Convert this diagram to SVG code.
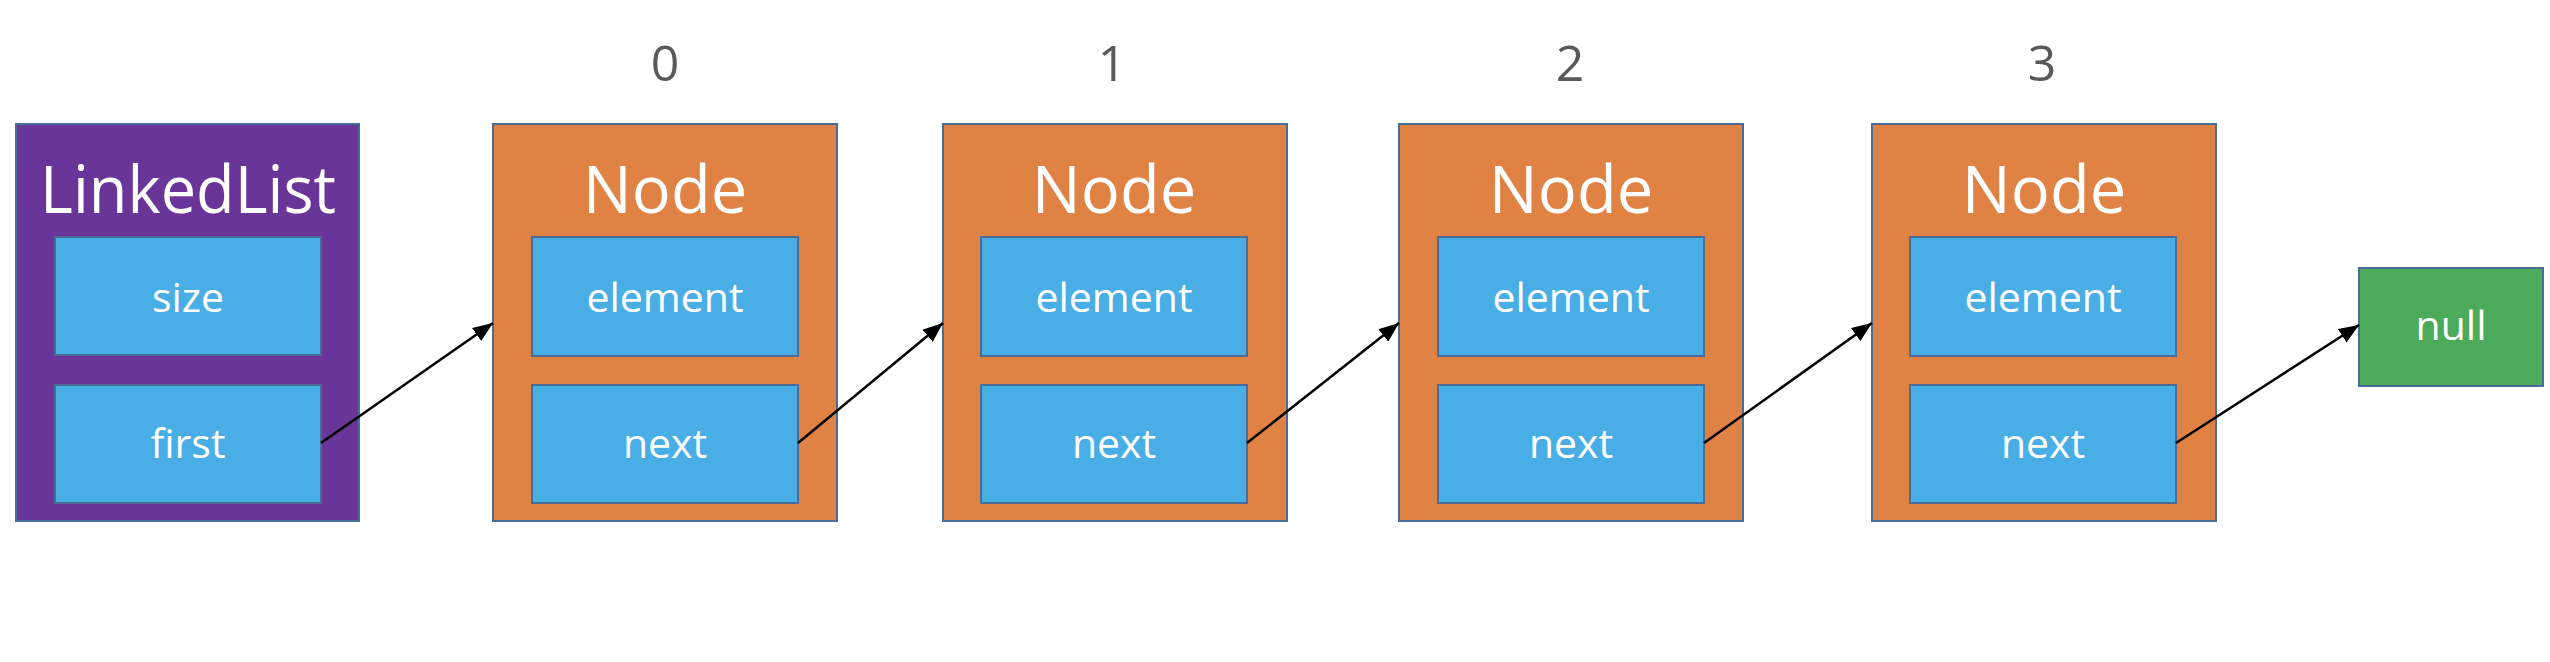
<svg xmlns="http://www.w3.org/2000/svg" width="2550" height="662" viewBox="0 0 2550 662">
<style>
.ll{fill:#6A3598;stroke:#4A6D98;stroke-width:2}
.nd{fill:#DF8244;stroke:#4A6D98;stroke-width:2}
.fld{fill:#4AAEE6;stroke:#4A6D98;stroke-width:2}
.nul{fill:#4CAB5A;stroke:#4A6D98;stroke-width:2}
.t{font-family:"Open Sans","Noto Sans",sans-serif;fill:#ffffff;text-anchor:middle}
.big{font-size:65px}
.sm{font-size:41px}
.idx{font-family:"Open Sans","Noto Sans",sans-serif;font-size:50px;fill:#595959;text-anchor:middle}
.conn{stroke:#000;stroke-width:2.5;fill:none;marker-end:url(#ah)}
</style>
<defs>
<marker id="ah" markerUnits="userSpaceOnUse" markerWidth="22" markerHeight="16" refX="20" refY="8" orient="auto">
<path d="M0,0 L20,8 L0,16 Z" fill="#000"/>
</marker>
</defs>
<rect width="2550" height="662" fill="#ffffff"/>

<g id="index-labels">
<text class="idx" x="665" y="81">0</text>
<text class="idx" x="1112" y="81">1</text>
<text class="idx" x="1570" y="81">2</text>
<text class="idx" x="2042" y="81">3</text>
</g>

<g id="linkedlist">
<rect class="ll" x="16" y="124" width="343" height="397"/>
<text class="t big" x="188" y="213" textLength="296" lengthAdjust="spacingAndGlyphs">LinkedList</text>
<rect class="fld" x="55" y="237" width="266" height="118"/>
<text class="t sm" x="188" y="312">size</text>
<rect class="fld" x="55" y="385" width="266" height="118"/>
<text class="t sm" x="188" y="458">first</text>
</g>

<g id="node0">
<rect class="nd" x="493" y="124" width="344" height="397"/>
<text class="t big" x="665" y="213">Node</text>
<rect class="fld" x="532" y="237" width="266" height="119"/>
<text class="t sm" x="665" y="312">element</text>
<rect class="fld" x="532" y="385" width="266" height="118"/>
<text class="t sm" x="665" y="458">next</text>
</g>

<g id="node1">
<rect class="nd" x="943" y="124" width="344" height="397"/>
<text class="t big" x="1114" y="213">Node</text>
<rect class="fld" x="981" y="237" width="266" height="119"/>
<text class="t sm" x="1114" y="312">element</text>
<rect class="fld" x="981" y="385" width="266" height="118"/>
<text class="t sm" x="1114" y="458">next</text>
</g>

<g id="node2">
<rect class="nd" x="1399" y="124" width="344" height="397"/>
<text class="t big" x="1571" y="213">Node</text>
<rect class="fld" x="1438" y="237" width="266" height="119"/>
<text class="t sm" x="1571" y="312">element</text>
<rect class="fld" x="1438" y="385" width="266" height="118"/>
<text class="t sm" x="1571" y="458">next</text>
</g>

<g id="node3">
<rect class="nd" x="1872" y="124" width="344" height="397"/>
<text class="t big" x="2044" y="213">Node</text>
<rect class="fld" x="1910" y="237" width="266" height="119"/>
<text class="t sm" x="2043" y="312">element</text>
<rect class="fld" x="1910" y="385" width="266" height="118"/>
<text class="t sm" x="2043" y="458">next</text>
</g>

<g id="null">
<rect class="nul" x="2359" y="268" width="184" height="118"/>
<text class="t sm" x="2451" y="340">null</text>
</g>

<g id="connectors">
<line class="conn" x1="321" y1="443" x2="493" y2="323"/>
<line class="conn" x1="798" y1="443" x2="943" y2="323"/>
<line class="conn" x1="1247" y1="443" x2="1399" y2="323"/>
<line class="conn" x1="1704" y1="443" x2="1872" y2="323"/>
<line class="conn" x1="2176" y1="443" x2="2359" y2="325"/>
</g>
</svg>
